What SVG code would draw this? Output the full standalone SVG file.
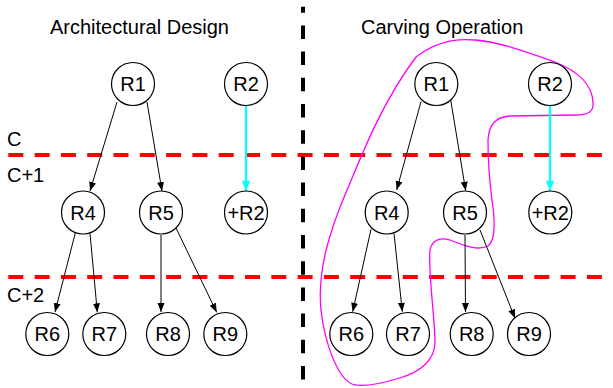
<svg xmlns="http://www.w3.org/2000/svg" width="613" height="388" viewBox="0 0 613 388">
<style>
text{font-family:"Liberation Sans",Arial,sans-serif;font-size:20px;fill:#000}
.nt{text-anchor:middle}
.node circle{fill:#fff;stroke:#000;stroke-width:1.2}
.edge{stroke:#000;stroke-width:1;fill:none;marker-end:url(#ah)}
.cy{stroke:#00FFFF;stroke-width:2.2;fill:none;marker-end:url(#ahc)}
.lvl{stroke:#FF0000;stroke-width:4;stroke-dasharray:15 11.3}
</style>
<defs>
<marker id="ah" markerUnits="userSpaceOnUse" markerWidth="10" markerHeight="8" refX="9" refY="3.5" orient="auto"><path d="M0,0 L9,3.5 L0,7 z" fill="#000"/></marker>
<marker id="ahc" markerUnits="userSpaceOnUse" markerWidth="11" markerHeight="9" refX="10" refY="4" orient="auto"><path d="M0,0 L10,4 L0,8 z" fill="#00FFFF"/></marker>
</defs>
<rect width="613" height="388" fill="#fff"/>
<g id="titles">
<text x="50" y="34">Architectural Design</text>
<text x="361" y="34">Carving Operation</text>
</g>
<g id="levels">
<line class="lvl" x1="8.3" y1="155" x2="613" y2="155"/>
<line class="lvl" x1="8.3" y1="277" x2="613" y2="277"/>
<text x="7" y="146">C</text>
<text x="7" y="182">C+1</text>
<text x="7" y="302">C+2</text>
</g>
<g id="divider">
<line x1="303" y1="6.7" x2="303" y2="381" stroke="#000" stroke-width="4" stroke-dasharray="13.5 12.7" stroke-dashoffset="7.5"/>
</g>
<g id="lasso">
<path d="M416,57 C435,42 455,38 475,40 C500,42 530,53 555,62 C580,72 592,85 593,102 C594,112 588,115 575,115 L510,116 C495,117 489,125 488,140 C488,165 490,185 492,200 C495,220 496,240 488,246 C478,251 465,246 450,240 C440,237 432,240 430,250 C428,270 434,310 435,340 C436,360 420,372 400,378 C380,384 362,388 352,384 C338,378 325,345 321,310 C317,270 330,230 347,190 C360,160 380,105 416,57 Z" fill="none" stroke="#FF00FF" stroke-width="1.3"/>
</g>
<g id="connectors">
<line class="edge" x1="117" y1="102" x2="90" y2="191"/>
<line class="edge" x1="147" y1="102" x2="162" y2="191"/>
<line class="cy" x1="246" y1="106" x2="246" y2="191"/>
<line class="edge" x1="75.3" y1="233" x2="55" y2="312"/>
<line class="edge" x1="90" y1="233.3" x2="97.3" y2="312.3"/>
<line class="edge" x1="161" y1="235" x2="161" y2="312"/>
<line class="edge" x1="176" y1="228" x2="216.7" y2="312.3"/>
<line class="edge" x1="421" y1="101.7" x2="396.7" y2="190"/>
<line class="edge" x1="450.7" y1="100" x2="465.7" y2="190.7"/>
<line class="cy" x1="550" y1="106" x2="550" y2="191"/>
<line class="edge" x1="371" y1="229.3" x2="352.7" y2="311.7"/>
<line class="edge" x1="394" y1="233.3" x2="402.3" y2="311.7"/>
<line class="edge" x1="465" y1="235" x2="465.5" y2="312"/>
<line class="edge" x1="480" y1="230" x2="515" y2="318.3"/>
</g>
<g id="L-R1" class="node"><circle cx="133" cy="84" r="21.5"/><text class="nt" x="133" y="91">R1</text></g>
<g id="L-R2" class="node"><circle cx="246" cy="84" r="21.5"/><text class="nt" x="246" y="91">R2</text></g>
<g id="L-R4" class="node"><circle cx="83" cy="212.5" r="21.5"/><text class="nt" x="83" y="219.5">R4</text></g>
<g id="L-R5" class="node"><circle cx="161" cy="212.5" r="21.5"/><text class="nt" x="161" y="219.5">R5</text></g>
<g id="L-pR2" class="node"><circle cx="246" cy="212.5" r="21.5"/><text class="nt" x="246" y="219.5">+R2</text></g>
<g id="L-R6" class="node"><circle cx="47.3" cy="334" r="21.5"/><text class="nt" x="47.3" y="341">R6</text></g>
<g id="L-R7" class="node"><circle cx="104.3" cy="334" r="21.5"/><text class="nt" x="104.3" y="341">R7</text></g>
<g id="L-R8" class="node"><circle cx="168" cy="334" r="21.5"/><text class="nt" x="168" y="341">R8</text></g>
<g id="L-R9" class="node"><circle cx="225.3" cy="334" r="21.5"/><text class="nt" x="225.3" y="341">R9</text></g>
<g id="R-R1" class="node"><circle cx="436.3" cy="84" r="21.5"/><text class="nt" x="436.3" y="91">R1</text></g>
<g id="R-R2" class="node"><circle cx="550" cy="84" r="21.5"/><text class="nt" x="550" y="91">R2</text></g>
<g id="R-R4" class="node"><circle cx="386.7" cy="212.5" r="21.5"/><text class="nt" x="386.7" y="219.5">R4</text></g>
<g id="R-R5" class="node"><circle cx="465" cy="212.5" r="21.5"/><text class="nt" x="465" y="219.5">R5</text></g>
<g id="R-pR2" class="node"><circle cx="550.3" cy="212.5" r="21.5"/><text class="nt" x="550.3" y="219.5">+R2</text></g>
<g id="R-R6" class="node"><circle cx="351.3" cy="334" r="21.5"/><text class="nt" x="351.3" y="341">R6</text></g>
<g id="R-R7" class="node"><circle cx="408" cy="334" r="21.5"/><text class="nt" x="408" y="341">R7</text></g>
<g id="R-R8" class="node"><circle cx="471.7" cy="334" r="21.5"/><text class="nt" x="471.7" y="341">R8</text></g>
<g id="R-R9" class="node"><circle cx="529" cy="334" r="21.5"/><text class="nt" x="529" y="341">R9</text></g>
</svg>
